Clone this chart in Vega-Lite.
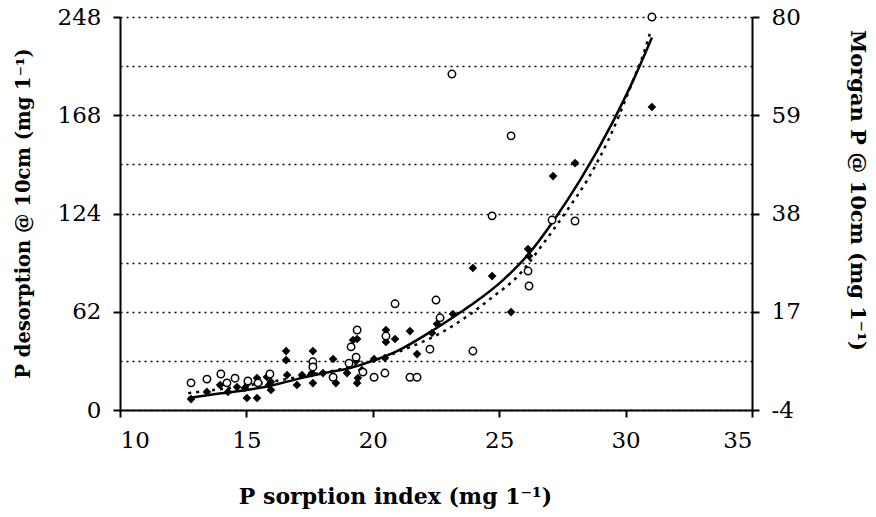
{
  "$schema": "https://vega.github.io/schema/vega-lite/v6.json",
  "width": 632,
  "height": 393,
  "autosize": {"type": "none"},
  "padding": {"left": 120, "top": 17, "right": 124, "bottom": 107},
  "background": "white",
  "config": {
    "view": {"stroke": null},
    "axis": {
      "labelFont": "DejaVu Serif",
      "labelFontSize": 23,
      "labelColor": "black",
      "titleFont": "DejaVu Serif",
      "titleFontSize": 19.5,
      "titleFontWeight": "bold",
      "titleColor": "black",
      "domainColor": "black",
      "domainWidth": 2,
      "tickColor": "black",
      "tickWidth": 2,
      "tickSize": 7
    }
  },
  "datasets": {
    "diamonds": [
      {"x": 12.81, "y": 6.9}, {"x": 13.44, "y": 11.4}, {"x": 13.96, "y": 15.8}, {"x": 14.27, "y": 11.4},
      {"x": 14.63, "y": 14.5}, {"x": 14.94, "y": 13.9}, {"x": 15.02, "y": 7.6}, {"x": 15.42, "y": 7.6},
      {"x": 15.06, "y": 17.0}, {"x": 15.42, "y": 20.2}, {"x": 15.81, "y": 20.8}, {"x": 15.89, "y": 15.8},
      {"x": 15.97, "y": 17.7}, {"x": 15.97, "y": 12.6}, {"x": 16.57, "y": 37.2}, {"x": 16.57, "y": 31.5},
      {"x": 17.63, "y": 37.2}, {"x": 16.61, "y": 22.1}, {"x": 17.0, "y": 15.8}, {"x": 17.2, "y": 22.1},
      {"x": 17.63, "y": 17.0}, {"x": 18.43, "y": 32.2}, {"x": 18.03, "y": 23.3}, {"x": 18.54, "y": 17.0},
      {"x": 18.98, "y": 23.3}, {"x": 17.59, "y": 23.3}, {"x": 19.22, "y": 44.2}, {"x": 19.38, "y": 44.8},
      {"x": 19.34, "y": 30.9}, {"x": 20.05, "y": 32.2}, {"x": 20.48, "y": 32.8}, {"x": 19.57, "y": 25.2},
      {"x": 19.41, "y": 20.2}, {"x": 19.38, "y": 17.0}, {"x": 20.52, "y": 50.5}, {"x": 20.52, "y": 42.9},
      {"x": 20.88, "y": 44.8}, {"x": 21.47, "y": 49.8}, {"x": 21.75, "y": 35.3}, {"x": 22.54, "y": 54.3},
      {"x": 22.34, "y": 48.6}, {"x": 23.17, "y": 60.6}, {"x": 23.96, "y": 89.6}, {"x": 24.72, "y": 84.5},
      {"x": 25.47, "y": 61.8}, {"x": 26.14, "y": 101.6}, {"x": 26.18, "y": 97.2}, {"x": 27.13, "y": 147.6},
      {"x": 28.0, "y": 155.8}, {"x": 31.04, "y": 191.2}
    ],
    "circles": [
      {"x": 12.81, "y": 1.8}, {"x": 13.44, "y": 2.6}, {"x": 13.99, "y": 3.7}, {"x": 14.55, "y": 2.8},
      {"x": 14.23, "y": 1.8}, {"x": 15.06, "y": 2.2}, {"x": 15.46, "y": 1.8}, {"x": 15.93, "y": 3.7},
      {"x": 17.63, "y": 6.3}, {"x": 17.63, "y": 5.2}, {"x": 18.43, "y": 3.0}, {"x": 19.06, "y": 6.0},
      {"x": 19.14, "y": 9.5}, {"x": 19.34, "y": 7.3}, {"x": 19.38, "y": 13.1}, {"x": 19.61, "y": 4.1},
      {"x": 20.05, "y": 3.0}, {"x": 20.48, "y": 3.9}, {"x": 20.52, "y": 11.8}, {"x": 20.88, "y": 18.7},
      {"x": 21.47, "y": 3.0}, {"x": 21.75, "y": 3.0}, {"x": 22.26, "y": 9.0}, {"x": 22.5, "y": 19.5},
      {"x": 22.66, "y": 15.7}, {"x": 23.13, "y": 67.8}, {"x": 23.96, "y": 8.6}, {"x": 24.72, "y": 37.5},
      {"x": 25.47, "y": 54.6}, {"x": 26.14, "y": 25.7}, {"x": 26.18, "y": 22.5}, {"x": 27.09, "y": 36.6},
      {"x": 28.0, "y": 36.4}, {"x": 31.04, "y": 80}
    ],
    "solidfit": [
      {"x": 12.7, "y": 7.6}, {"x": 14, "y": 10.5}, {"x": 15, "y": 12.6}, {"x": 16, "y": 15.5},
      {"x": 17, "y": 19.5}, {"x": 18, "y": 23}, {"x": 19.1, "y": 26.5}, {"x": 20, "y": 31},
      {"x": 21, "y": 37.5}, {"x": 22.4, "y": 50.5}, {"x": 23.5, "y": 62}, {"x": 24, "y": 67.5},
      {"x": 25.15, "y": 82}, {"x": 26.14, "y": 98}, {"x": 27.13, "y": 119}, {"x": 28.2, "y": 145},
      {"x": 29.5, "y": 182}, {"x": 30.3, "y": 208}, {"x": 31.04, "y": 235}
    ],
    "dottedfit": [
      {"x": 12.7, "y": -0.4}, {"x": 15.1, "y": 1.3}, {"x": 17.1, "y": 3.1}, {"x": 19.1, "y": 5.2},
      {"x": 20.7, "y": 7.8}, {"x": 21.5, "y": 9.5}, {"x": 22.7, "y": 12.5}, {"x": 23.7, "y": 15.9},
      {"x": 24.75, "y": 20.2}, {"x": 25.7, "y": 24.4}, {"x": 26.6, "y": 30.5}, {"x": 27.1, "y": 34.2},
      {"x": 27.7, "y": 38.8}, {"x": 28.5, "y": 45.3}, {"x": 28.9, "y": 49.2}, {"x": 29.3, "y": 53.5},
      {"x": 29.7, "y": 58.4}, {"x": 30.3, "y": 66.5}, {"x": 30.7, "y": 72.0}, {"x": 31.0, "y": 77.2}
    ]
  },
  "layer": [
    {
      "encoding": {
        "x": {
          "field": "x", "type": "quantitative",
          "scale": {"domain": [10, 35], "nice": false, "zero": false},
          "axis": {
            "values": [10, 15, 20, 25, 30, 35],
            "grid": false,
            "labelPadding": 12,
            "title": "P sorption index (mg 1⁻¹)",
            "titleFontSize": 22,
            "titleX": 275, "titleY": 86,
            "titleAlign": "center", "titleBaseline": "middle"
          }
        },
        "y": {
          "field": "y", "type": "quantitative",
          "scale": {"domain": [0, 248], "nice": false, "zero": false},
          "axis": {
            "orient": "left",
            "values": [0, 31, 62, 93, 124, 155, 186, 217, 248],
            "grid": true,
            "gridColor": "black",
            "gridDash": [2, 4],
            "gridWidth": 1.5,
            "tickOpacity": {"condition": {"test": "datum.value % 62 === 0", "value": 1}, "value": 0},
            "labelExpr": "datum.value % 62 === 0 ? (datum.value === 186 ? '168' : '' + datum.value) : ''",
            "labelPadding": 12,
            "title": "P desorption @ 10cm (mg 1⁻¹)",
            "titleAngle": -90,
            "titleX": -97, "titleY": 196,
            "titleAlign": "center", "titleBaseline": "middle"
          }
        }
      },
      "layer": [
        {
          "data": {"name": "solidfit"},
          "mark": {"type": "line", "color": "black", "strokeWidth": 2.5, "interpolate": "monotone"}
        },
        {
          "data": {"name": "diamonds"},
          "mark": {"type": "point", "shape": "diamond", "filled": true, "color": "black", "size": 75, "opacity": 1}
        }
      ]
    },
    {
      "encoding": {
        "x": {"field": "x", "type": "quantitative"},
        "y": {
          "field": "y", "type": "quantitative",
          "scale": {"domain": [-4, 80], "nice": false, "zero": false},
          "axis": {
            "orient": "right",
            "values": [-4, 6.5, 17, 27.5, 38, 48.5, 59, 69.5, 80],
            "grid": false,
            "tickOpacity": {"condition": {"test": "datum.value % 1 === 0", "value": 1}, "value": 0},
            "labelExpr": "datum.value % 1 === 0 ? '' + datum.value : ''",
            "labelPadding": 12,
            "title": "Morgan P @ 10cm (mg 1⁻¹)",
            "titleFontSize": 21,
            "titleAngle": 90,
            "titleX": 104, "titleY": 173,
            "titleAlign": "center", "titleBaseline": "middle"
          }
        }
      },
      "layer": [
        {
          "data": {"name": "dottedfit"},
          "mark": {"type": "line", "color": "black", "strokeWidth": 2.5, "strokeDash": [3, 5], "interpolate": "monotone"}
        },
        {
          "data": {"name": "circles"},
          "mark": {"type": "point", "shape": "circle", "filled": false, "stroke": "black", "fill": "white", "fillOpacity": 1, "strokeWidth": 1.5, "size": 55, "opacity": 1}
        }
      ]
    }
  ],
  "resolve": {"scale": {"y": "independent"}}
}
